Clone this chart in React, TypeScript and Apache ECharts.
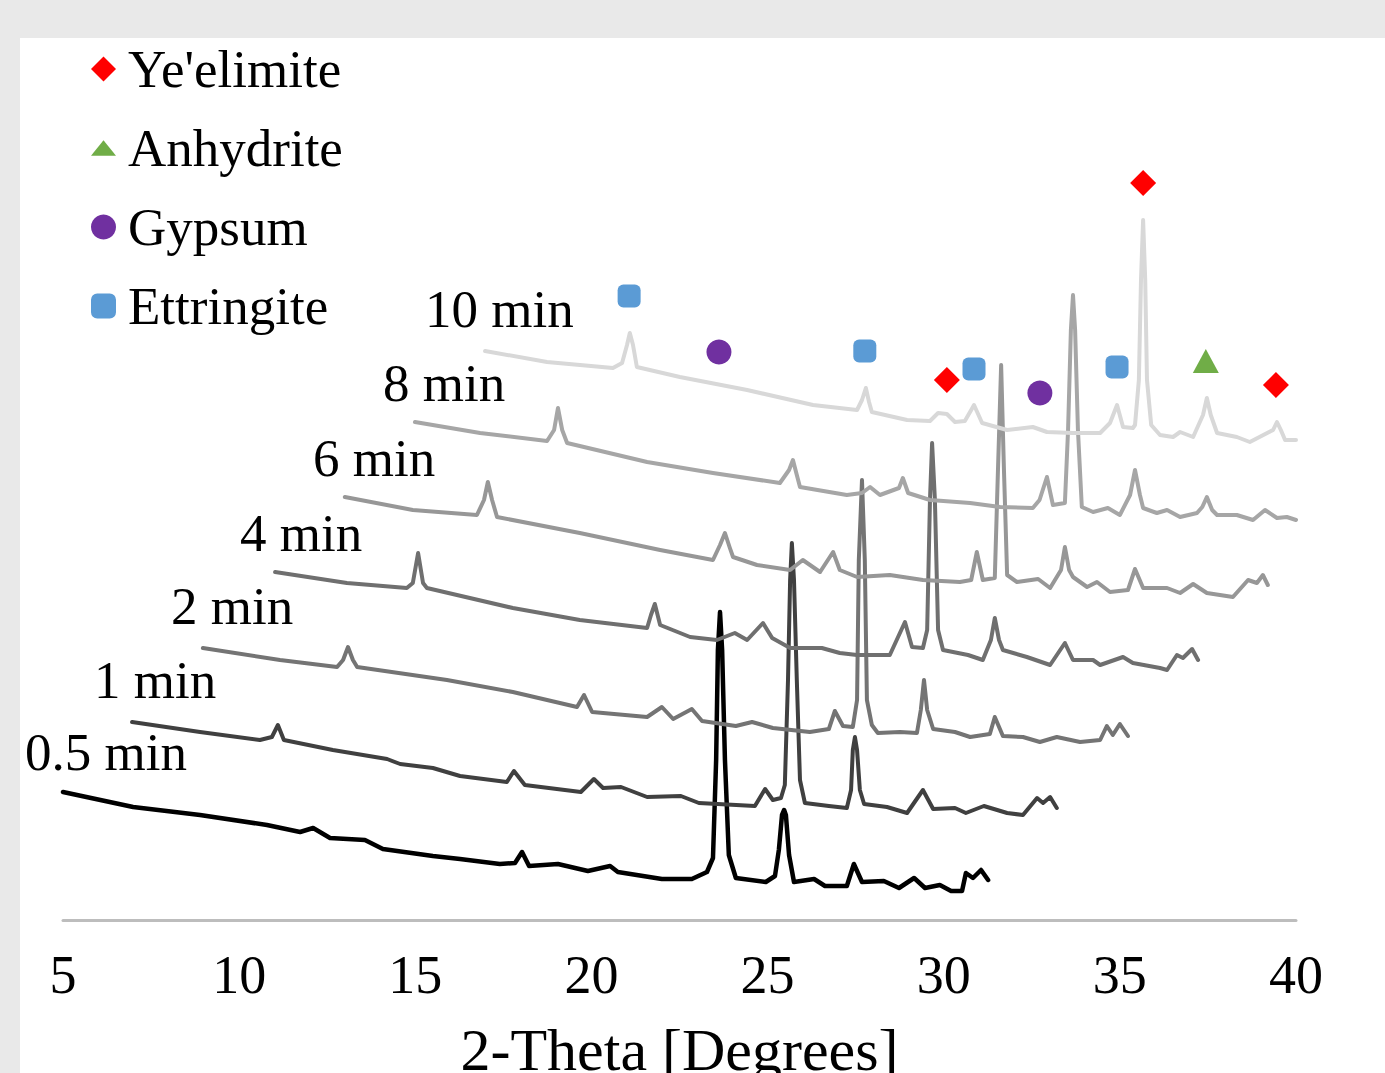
import React, { useEffect, useRef } from "react";
import * as echarts from "echarts";

// ---- Data (2-Theta in degrees, intensity in arbitrary counts; traces already offset as plotted) ----
const TRACE_NAMES = ["0.5 min", "1 min", "2 min", "4 min", "6 min", "8 min", "10 min"];
const TRACE_COLORS = ["#000000", "#404040", "#747474", "#6f6f6f", "#979797", "#a6a6a6", "#d8d8d8"];

const TRACE_05: [number, number][] = [
  [5.0, 128], [6.99, 113], [8.89, 105], [10.79, 95], [11.73, 88], [12.1, 92], [12.58, 82], [13.57, 80],
  [14.08, 71], [15.5, 64], [16.27, 61], [17.4, 56], [17.83, 57], [18.03, 68], [18.23, 54], [19.05, 56],
  [19.9, 49], [20.53, 54], [20.75, 48], [22.0, 41], [22.85, 41], [23.28, 48], [23.45, 62], [23.54, 160],
  [23.59, 270], [23.65, 308], [23.71, 270], [23.79, 160], [23.9, 65], [24.1, 42], [24.95, 38], [25.21, 44],
  [25.32, 70], [25.41, 105], [25.47, 110], [25.52, 105], [25.61, 65], [25.75, 38], [26.32, 41], [26.63, 34],
  [27.25, 34], [27.45, 56], [27.68, 38], [28.3, 39], [28.73, 32], [29.16, 42], [29.47, 32], [29.89, 35],
  [30.21, 29], [30.52, 29], [30.63, 47], [30.83, 42], [31.06, 50], [31.26, 40],
];

const TRACE_1: [number, number][] = [
  [6.96, 198], [8.89, 188], [10.59, 180], [10.93, 183], [11.1, 195], [11.27, 180], [12.66, 170], [14.2, 161],
  [14.57, 156], [15.5, 152], [16.27, 144], [17.6, 138], [17.8, 149], [18.11, 135], [19.7, 128], [20.07, 141],
  [20.33, 132], [20.84, 133], [21.58, 123], [22.54, 124], [23.05, 117], [24.64, 114], [24.93, 131], [25.15, 120],
  [25.38, 122], [25.49, 135], [25.58, 240], [25.64, 340], [25.69, 377], [25.75, 340], [25.83, 240], [25.92, 140],
  [26.06, 117], [26.74, 114], [27.25, 112], [27.37, 130], [27.42, 170], [27.48, 183], [27.54, 170], [27.62, 130],
  [27.74, 116], [28.39, 113], [28.96, 107], [29.41, 130], [29.7, 111], [30.32, 112], [30.63, 107], [31.14, 114],
  [31.8, 107], [32.25, 105], [32.65, 122], [32.82, 117], [33.02, 123], [33.21, 112],
];

const TRACE_2: [number, number][] = [
  [8.97, 272], [11.16, 260], [12.78, 253], [12.95, 260], [13.09, 273], [13.23, 260], [13.35, 253], [15.9, 240],
  [17.77, 228], [19.59, 213], [19.79, 225], [20.02, 208], [21.58, 203], [22.0, 213], [22.32, 201], [22.85, 211],
  [23.14, 199], [24.1, 194], [24.56, 198], [25.15, 192], [26.2, 188], [26.74, 191], [26.91, 209], [27.14, 194],
  [27.42, 193], [27.54, 220], [27.59, 360], [27.68, 440], [27.76, 360], [27.82, 220], [27.96, 195], [28.13, 187],
  [28.76, 188], [29.24, 187], [29.35, 210], [29.44, 240], [29.53, 210], [29.7, 191], [30.32, 188], [30.75, 183],
  [31.31, 186], [31.45, 203], [31.68, 184], [32.25, 183], [32.73, 178], [33.21, 183], [33.87, 178], [34.44, 180],
  [34.63, 194], [34.8, 185], [35.0, 196], [35.23, 184],
];

const TRACE_4: [number, number][] = [
  [11.02, 348], [13.06, 337], [14.76, 332], [14.93, 337], [15.08, 367], [15.22, 337], [15.33, 332], [17.77, 312],
  [19.67, 300], [21.58, 292], [21.69, 305], [21.8, 316], [21.95, 295], [22.8, 283], [23.56, 280], [24.07, 287],
  [24.42, 280], [24.87, 297], [25.13, 282], [25.64, 272], [26.54, 272], [27.05, 267], [27.54, 265], [28.47, 265],
  [28.9, 298], [29.1, 273], [29.41, 272], [29.53, 290], [29.61, 420], [29.67, 477], [29.75, 420], [29.84, 290],
  [29.98, 270], [30.69, 265], [31.11, 260], [31.34, 280], [31.45, 302], [31.57, 280], [31.68, 270], [32.36, 263],
  [33.02, 255], [33.44, 277], [33.67, 260], [34.24, 260], [34.44, 255], [35.09, 263], [35.37, 257], [36.14, 252],
  [36.34, 250], [36.62, 265], [36.79, 262], [37.05, 271], [37.22, 260],
];

const TRACE_6: [number, number][] = [
  [13.0, 423], [14.93, 410], [16.75, 405], [16.95, 420], [17.06, 438], [17.18, 420], [17.32, 403], [19.67, 387],
  [21.95, 370], [23.45, 360], [23.65, 375], [23.79, 387], [23.93, 372], [24.02, 363], [24.7, 355], [25.64, 350],
  [26.0, 360], [26.49, 348], [26.86, 368], [27.05, 350], [27.54, 343], [28.47, 345], [29.41, 340], [30.46, 338],
  [30.78, 340], [30.94, 368], [31.11, 340], [31.45, 342], [31.54, 450], [31.63, 555], [31.71, 450], [31.8, 345],
  [32.08, 338], [32.68, 341], [33.02, 332], [33.33, 350], [33.44, 373], [33.56, 350], [33.67, 343], [34.07, 333],
  [34.35, 338], [34.72, 328], [35.23, 330], [35.43, 351], [35.66, 332], [36.34, 332], [36.71, 327], [37.08, 336],
  [37.47, 327], [38.21, 323], [38.64, 340], [38.89, 337], [39.06, 345], [39.2, 335],
];

const TRACE_8: [number, number][] = [
  [14.99, 498], [16.84, 487], [18.74, 479], [18.94, 490], [19.05, 512], [19.17, 490], [19.31, 477], [21.58, 458],
  [23.45, 447], [25.35, 437], [25.61, 450], [25.72, 460], [25.83, 445], [25.92, 433], [27.25, 425], [27.68, 427],
  [27.91, 433], [28.19, 425], [28.73, 432], [28.84, 442], [28.99, 427], [29.61, 420], [30.75, 417], [31.6, 413],
  [32.53, 412], [32.72, 420], [32.93, 443], [33.1, 415], [33.44, 417], [33.53, 490], [33.61, 590], [33.67, 625],
  [33.73, 590], [33.81, 490], [33.92, 413], [34.24, 408], [34.66, 412], [35.0, 405], [35.29, 425], [35.43, 450],
  [35.57, 425], [35.66, 412], [36.05, 407], [36.34, 410], [36.71, 403], [37.19, 407], [37.34, 413], [37.47, 423],
  [37.62, 410], [37.76, 405], [38.32, 405], [38.78, 400], [39.12, 410], [39.46, 402], [39.74, 403], [40.0, 400],
];

const TRACE_10: [number, number][] = [
  [16.98, 569], [18.74, 558], [20.61, 552], [20.87, 557], [21.01, 575], [21.09, 587], [21.18, 575], [21.29, 553],
  [22.51, 543], [24.42, 530], [26.29, 515], [27.54, 510], [27.68, 520], [27.79, 532], [27.88, 518], [27.96, 508],
  [28.96, 500], [29.61, 499], [29.84, 507], [30.09, 506], [30.32, 498], [30.6, 499], [30.78, 510], [30.86, 515],
  [30.95, 508], [31.09, 497], [31.8, 490], [32.53, 493], [32.93, 488], [33.67, 487], [34.44, 487], [34.72, 497],
  [34.92, 515], [35.09, 493], [35.37, 492], [35.43, 495], [35.54, 540], [35.6, 640], [35.66, 700], [35.72, 640],
  [35.77, 540], [35.89, 495], [35.94, 493], [36.14, 485], [36.51, 483], [36.71, 488], [37.08, 483], [37.36, 505],
  [37.47, 522], [37.58, 505], [37.76, 487], [38.32, 483], [38.69, 478], [39.35, 490], [39.46, 498], [39.57, 490],
  [39.69, 480], [40.0, 480],
];

const TRACES = [TRACE_05, TRACE_1, TRACE_2, TRACE_4, TRACE_6, TRACE_8, TRACE_10];

// Phase markers (placed above identified peaks of the 10 min pattern)
const PHASE_NAMES = ["Ye'elimite", "Anhydrite", "Gypsum", "Ettringite"];
const YEELIMITE_MARKS: [number, number][] = [[30.09, 540], [35.66, 737], [39.43, 535]];
const ANHYDRITE_MARKS: [number, number][] = [[37.44, 559]];
const GYPSUM_MARKS: [number, number][] = [[23.62, 568], [32.73, 527]];
const ETTRINGITE_MARKS: [number, number][] = [[21.07, 624], [27.76, 569], [30.86, 551], [34.92, 553]];
const PHASE_MARKS = [YEELIMITE_MARKS, ANHYDRITE_MARKS, GYPSUM_MARKS, ETTRINGITE_MARKS];
const PHASE_COLORS = ["#ff0000", "#70ad47", "#7030a0", "#5b9bd5"];

const X_TICKS = [5, 10, 15, 20, 25, 30, 35, 40];

const SERIF = '"Liberation Serif", "Times New Roman", "DejaVu Serif", serif';

export default function App() {
  const ref = useRef<HTMLDivElement>(null);

  useEffect(() => {
    if (!ref.current) return;
    const chart = echarts.init(ref.current, null, { renderer: "svg" });

    const lineSeries = TRACES.map((d, i) => ({
      type: "line",
      name: TRACE_NAMES[i],
      data: d,
      symbol: "none",
      showSymbol: false,
      clip: true,
      silent: true,
      lineStyle: { color: TRACE_COLORS[i], width: i === 0 ? 4.5 : 4, join: "round", cap: "round" },
      itemStyle: { color: TRACE_COLORS[i] },
      z: 2,
    }));

    const symbols = ["diamond", "triangle", "circle", "roundRect"];
    const sizes: any[] = [26, [26, 24], 25, 23];
    const markerSeries = PHASE_NAMES.map((n, i) => ({
      type: "scatter",
      name: n,
      data: PHASE_MARKS[i],
      symbol: symbols[i],
      symbolSize: sizes[i],
      itemStyle: { color: PHASE_COLORS[i], opacity: 1 },
      silent: true,
      z: 5,
    }));

    const labelPos: [number, number][] = [
      [25, 752], [94, 680], [171, 606], [240, 533], [313, 458], [383, 383], [425, 309],
    ];
    const graphics = TRACE_NAMES.map((t, i) => ({
      type: "text",
      x: labelPos[i][0],
      y: labelPos[i][1],
      silent: true,
      style: {
        text: t,
        fontSize: 53,
        fontFamily: SERIF,
        fill: "#000000",
        textAlign: "left",
        textVerticalAlign: "middle",
        verticalAlign: "middle",
      },
    }));

    chart.setOption({
      animation: false,
      grid: { left: 63, right: 89, top: 38, bottom: 153, containLabel: false, outerBoundsMode: "none" },
      xAxis: {
        type: "value",
        min: X_TICKS[0],
        max: X_TICKS[X_TICKS.length - 1],
        interval: 5,
        axisLine: { show: true, onZero: false, lineStyle: { color: "#bdbdbd", width: 3 } },
        axisTick: { show: false },
        splitLine: { show: false },
        axisLabel: { fontSize: 54, fontFamily: SERIF, color: "#000000", margin: 28 },
        name: "2-Theta [Degrees]",
        nameLocation: "middle",
        nameGap: 100,
        nameTextStyle: { fontSize: 60, fontFamily: SERIF, color: "#000000" },
      },
      yAxis: { type: "value", min: 0, max: 882, show: false },
      legend: {
        orient: "vertical",
        left: 86,
        top: 36,
        itemWidth: 25,
        itemHeight: 25,
        itemGap: 23,
        selectedMode: false,
        data: [
          { name: PHASE_NAMES[0] },
          { name: PHASE_NAMES[1], icon: "path://M0,16L13,0L26,16Z" },
          { name: PHASE_NAMES[2] },
          { name: PHASE_NAMES[3] },
        ],
        textStyle: { fontSize: 53, fontFamily: SERIF, color: "#000000", lineHeight: 56, padding: [0, 0, 0, 7] },
      },
      graphic: graphics,
      series: [...lineSeries, ...markerSeries],
    });

    return () => chart.dispose();
  }, []);

  return (
    <div style={{ position: "absolute", left: 0, top: 0, width: 1385, height: 1073, background: "#e9e9e9", overflow: "hidden" }}>
      <div style={{ position: "absolute", left: 20, top: 38, width: 1365, height: 1035, background: "#ffffff" }} />
      <div ref={ref} style={{ position: "absolute", left: 0, top: 0, width: 1385, height: 1073 }} />
    </div>
  );
}
